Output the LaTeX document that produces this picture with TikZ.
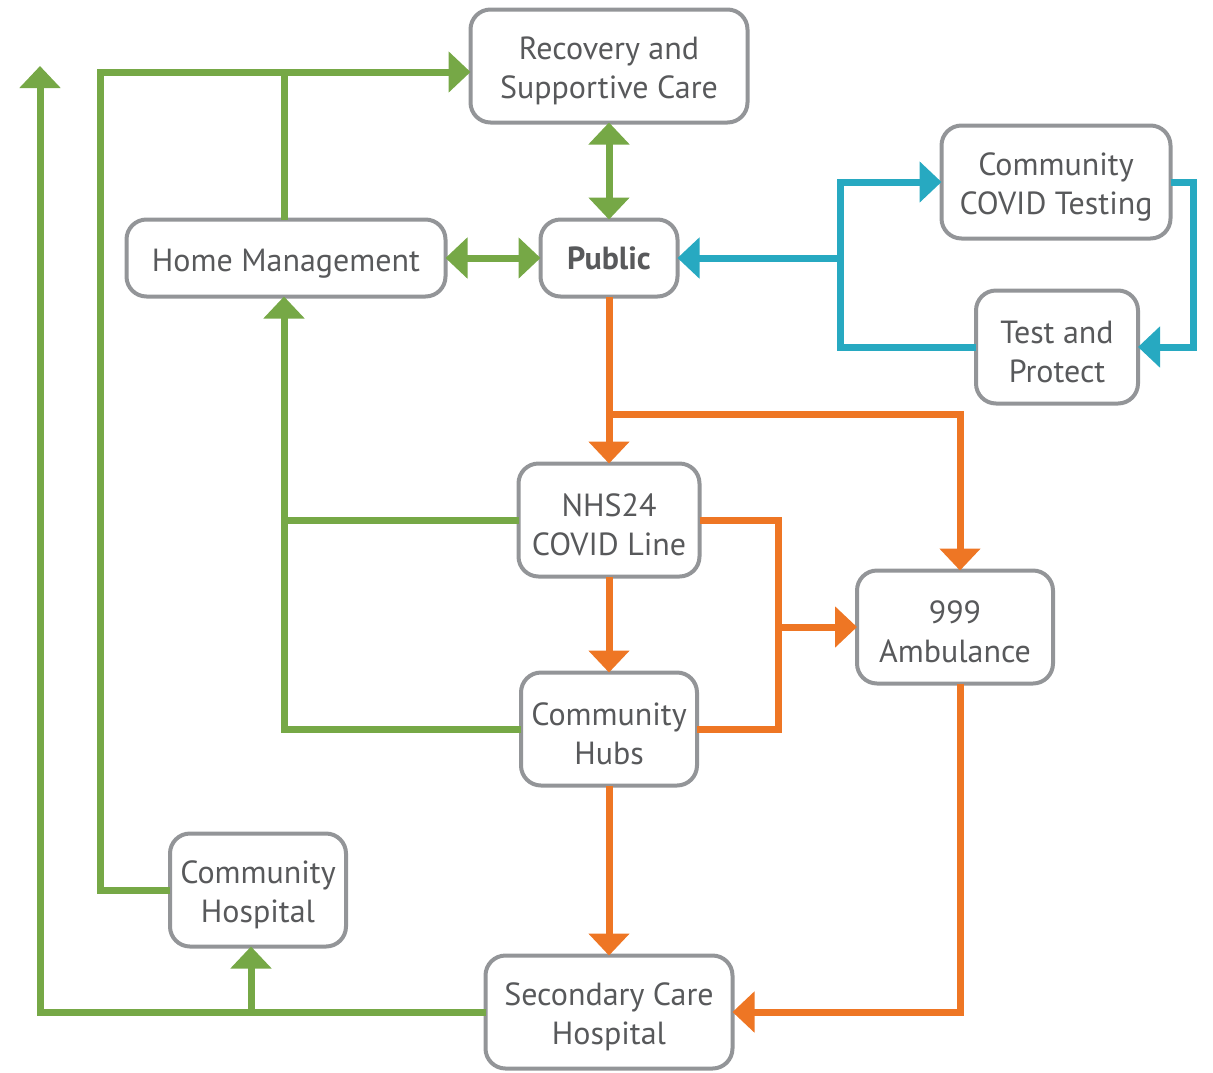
\documentclass[tikz,border=0pt]{standalone}
\usepackage{fontspec}
\setmainfont{PT Sans}
\usetikzlibrary{arrows.meta}

\definecolor{boxgray}{HTML}{939598}
\definecolor{textgray}{HTML}{58595B}
\definecolor{flowgreen}{HTML}{76A846}
\definecolor{floworange}{HTML}{EE7624}
\definecolor{flowblue}{HTML}{27A9C1}

\newcommand{\topstrut}{\rule{0pt}{33pt}}

\begin{document}
\begin{tikzpicture}[x=1pt,y=-1pt]
  \tikzset{BoxStyle/.style = {
    shape          = rectangle,
    draw           = boxgray,
    fill           = white,
    line width     = 4pt,
    rounded corners = 20pt,
    text           = textgray,
    align          = center,
    inner sep      = 2pt,
    outer sep      = 0pt,
    minimum height = 113pt,
    font           = \fontsize{32}{39}\selectfont
    }
  }
  \tikzset{LineStyle/.style = {
    line width     = 7pt,
    line join      = miter
    }
  }
  \tikzset{TipStyle/.style = {
    LineStyle,
    -{Triangle[width=40pt,length=22pt]}
    }
  }
  \tikzset{BothTipStyle/.style = {
    LineStyle,
    {Triangle[width=40pt,length=22pt]}-{Triangle[width=40pt,length=22pt]}
    }
  }

  \useasboundingbox (0,0) rectangle (1213,1072);

	\node[BoxStyle, minimum width=277pt](Rec) at (609, 66) {\topstrut Recovery and\\Supportive Care};
	\node[BoxStyle, minimum width=137pt, minimum height=77pt](Pub) at (609, 258) {\textbf{Public}};
	\node[BoxStyle, minimum width=319pt, minimum height=77pt](HM) at (286, 258) {\topstrut Home Management};
	\node[BoxStyle, minimum width=229pt](CCT) at (1056, 182) {\topstrut Community\\COVID Testing};
	\node[BoxStyle, minimum width=162pt](TP) at (1057, 347) {\topstrut Test and\\Protect};
	\node[BoxStyle, minimum width=181pt](NHS) at (609, 520) {\topstrut NHS24\\COVID Line};
	\node[BoxStyle, minimum width=176pt](Hubs) at (609, 729) {\topstrut Community\\Hubs};
	\node[BoxStyle, minimum width=196pt](Amb) at (955, 627) {\topstrut 999\\Ambulance};
	\node[BoxStyle, minimum width=176pt](CH) at (258, 890) {\topstrut Community\\Hospital};
	\node[BoxStyle, minimum width=247pt](SCH) at (609, 1012) {\topstrut Secondary Care\\Hospital};

	\coordinate (TopJ) at (100, 72);
	\coordinate (OutTip) at (40, 66);
	\coordinate (PubJ) at (609, 414);
	\coordinate (AmbJ) at (778, 627);
	\coordinate (BlueJ) at (840, 258);
	\coordinate (HMtop) at ([xshift=-2pt]HM.north);
	\coordinate (HMfoot) at ([xshift=-2pt]HM.south);
	\coordinate (CHfoot) at ([xshift=-7pt]CH.south);
	\coordinate (AmbTop) at ([xshift=5pt]Amb.north);
	\coordinate (AmbFoot) at ([xshift=5pt]Amb.south);

	\draw[BothTipStyle, flowgreen](Rec) -- (Pub);
	\draw[BothTipStyle, flowgreen](HM) -- (Pub);
	\draw[TipStyle, flowgreen](CH.west) -| (TopJ) -- (TopJ -| Rec.west);
	\draw[LineStyle, flowgreen](HMtop) -- (HMtop |- TopJ);
	\draw[TipStyle, flowgreen](SCH.west) -| (OutTip);
	\draw[TipStyle, flowgreen](CHfoot |- SCH.west) -- (CHfoot);
	\draw[TipStyle, flowgreen](Hubs.west) -| (HMfoot);
	\draw[LineStyle, flowgreen](NHS.west) -- (NHS.west -| HMfoot);

	\draw[TipStyle, floworange](Pub) -- (NHS);
	\draw[TipStyle, floworange](PubJ) -| (AmbTop);
	\draw[LineStyle, floworange](NHS.east) -| (AmbJ) |- (Hubs.east);
	\draw[TipStyle, floworange](AmbJ) -- (Amb.west);
	\draw[TipStyle, floworange](NHS) -- (Hubs);
	\draw[TipStyle, floworange](Hubs) -- (SCH);
	\draw[TipStyle, floworange](AmbFoot) |- (SCH.east);

	\draw[TipStyle, flowblue](BlueJ) -- (Pub.east);
	\draw[TipStyle, flowblue](TP.west) -| (BlueJ) |- (CCT.west);
	\draw[TipStyle, flowblue](CCT.east) -- ++(23, 0) |- (TP.east);

\end{tikzpicture}
\end{document}
